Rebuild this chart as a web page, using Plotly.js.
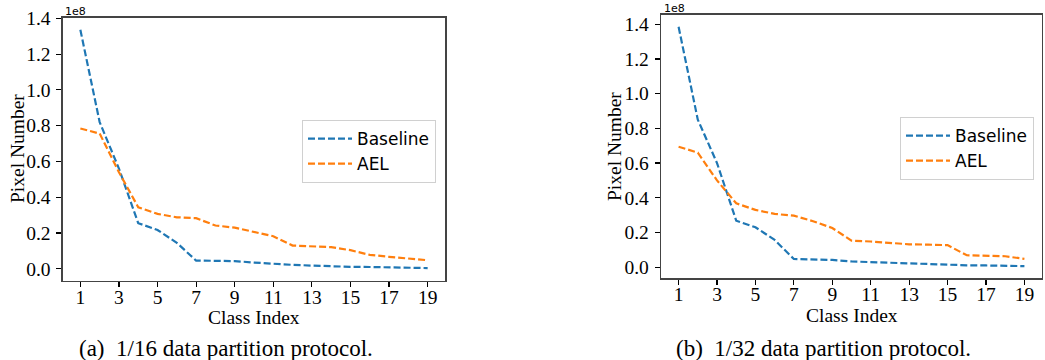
<!DOCTYPE html>
<html>
<head>
<meta charset="utf-8">
<script src="https://cdn.plot.ly/plotly-3.0.1.min.js"></script>
<style>html,body{margin:0;padding:0;background:#fff;}#chart{width:1045px;height:360px;}</style>
</head>
<body>
<div id="chart"></div>
<script>
// Class indices
const classIndex = [1,2,3,4,5,6,7,8,9,10,11,12,13,14,15,16,17,18,19];
// Values in units of 1e8 pixels
// (a) 1/16 data partition protocol
const baseline16 = [1.336,0.82,0.56,0.255,0.217,0.145,0.046,0.045,0.043,0.035,0.027,0.022,0.018,0.013,0.011,0.010,0.009,0.006,0.004];
const ael16      = [0.784,0.756,0.54,0.344,0.307,0.288,0.283,0.242,0.230,0.206,0.182,0.130,0.126,0.121,0.104,0.078,0.067,0.056,0.048];
// (b) 1/32 data partition protocol
const baseline32 = [1.385,0.85,0.60,0.268,0.230,0.157,0.047,0.046,0.042,0.033,0.029,0.024,0.019,0.015,0.012,0.011,0.010,0.008,0.006];
const ael32      = [0.694,0.660,0.50,0.368,0.330,0.307,0.297,0.265,0.226,0.153,0.148,0.138,0.132,0.130,0.127,0.069,0.067,0.063,0.048];
const xTicks = [1,3,5,7,9,11,13,15,17,19];
const yTicks = [0,0.2,0.4,0.6,0.8,1.0,1.2,1.4];
const seriesNames = ['Baseline','AEL'];
const captions = ['(a)  1/16 data partition protocol.','(b)  1/32 data partition protocol.'];
const xTitle = 'Class Index';
const yTitle = 'Pixel Number';
const scaleLabel = '1e8';

const blue = '#1f77b4', orange = '#ff7f0e';
const lineStyle = c => ({color:c, width:2.2, dash:'7px,3px'});
const W = 1045, H = 360;
const px = x => x / W;
const py = y => (H - y) / H;

const traces = [
  {x:classIndex, y:baseline16, name:seriesNames[0], mode:'lines', line:lineStyle(blue), xaxis:'x', yaxis:'y', legend:'legend', legendgroup:'b1'},
  {x:classIndex, y:ael16, name:seriesNames[1], mode:'lines', line:lineStyle(orange), xaxis:'x', yaxis:'y', legend:'legend', legendgroup:'a1'},
  {x:classIndex, y:baseline32, name:seriesNames[0], mode:'lines', line:lineStyle(blue), xaxis:'x2', yaxis:'y2', legend:'legend2', legendgroup:'b2'},
  {x:classIndex, y:ael32, name:seriesNames[1], mode:'lines', line:lineStyle(orange), xaxis:'x2', yaxis:'y2', legend:'legend2', legendgroup:'a2'}
];

const serif = 'Liberation Serif';
const sans = 'DejaVu Sans';

function xAx(domain, anchor){
  return {domain:domain, anchor:anchor, range:[0.1,19.9], tickmode:'array', tickvals:xTicks,
    ticks:'outside', ticklen:5, tickwidth:1.2, tickcolor:'#000', showgrid:false, zeroline:false,
    showline:true, mirror:true, linecolor:'#444', linewidth:1.6, ticklabelstandoff:-7,
    tickfont:{family:serif, size:19.5, color:'#000'}};
}
function yAx(domain, anchor, range){
  return {domain:domain, anchor:anchor, range:range, tickmode:'array', tickvals:yTicks, tickformat:'.1f',
    ticks:'outside', ticklen:5, tickwidth:1.2, tickcolor:'#000', showgrid:false, zeroline:false,
    showline:true, mirror:true, linecolor:'#444', linewidth:1.6, ticklabelstandoff:2,
    tickfont:{family:serif, size:19.5, color:'#000'}};
}

function legendAt(x, y){
  return {x:x, y:y, font:{family:sans, size:17, color:'#000'}, bgcolor:'rgba(255,255,255,0.8)',
    bordercolor:'#d0d0d0', borderwidth:1, xanchor:'left', yanchor:'top', itemwidth:44, tracegroupgap:0};
}

const layout = {
  width:W, height:H, margin:{l:0,r:0,t:0,b:0}, paper_bgcolor:'#fff', plot_bgcolor:'#fff',
  font:{family:serif, size:19.5, color:'#000'},
  showlegend:true,
  xaxis: xAx([px(63), px(445)], 'y'),
  yaxis: yAx([py(280.7), py(17.7)], 'x', [-0.0665, 1.4035]),
  xaxis2: xAx([px(661.3), px(1041.7)], 'y2'),
  yaxis2: yAx([py(278.3), py(15)], 'x2', [-0.064, 1.453]),
  legend: legendAt(px(302), py(120)),
  legend2: legendAt(px(900), py(117)),
  annotations: [
    {text:yTitle, xref:'paper', yref:'paper', x:px(17), y:py(149), textangle:-90, showarrow:false, font:{family:serif, size:19.5, color:'#000'}, xanchor:'center', yanchor:'middle'},
    {text:yTitle, xref:'paper', yref:'paper', x:px(614), y:py(147), textangle:-90, showarrow:false, font:{family:serif, size:19.5, color:'#000'}, xanchor:'center', yanchor:'middle'},
    {text:xTitle, xref:'paper', yref:'paper', x:px(254), y:py(317), showarrow:false, font:{family:serif, size:19.5, color:'#000'}, xanchor:'center', yanchor:'middle'},
    {text:xTitle, xref:'paper', yref:'paper', x:px(851.5), y:py(315), showarrow:false, font:{family:serif, size:19.5, color:'#000'}, xanchor:'center', yanchor:'middle'},
    {text:captions[0], xref:'paper', yref:'paper', x:px(226), y:py(348), showarrow:false, font:{family:serif, size:23, color:'#000'}, xanchor:'center', yanchor:'middle'},
    {text:captions[1], xref:'paper', yref:'paper', x:px(823.5), y:py(348), showarrow:false, font:{family:serif, size:23, color:'#000'}, xanchor:'center', yanchor:'middle'},
    {text:scaleLabel, xref:'paper', yref:'paper', x:px(63), y:py(12), showarrow:false, font:{family:sans, size:11, color:'#000'}, xanchor:'left', yanchor:'middle'},
    {text:scaleLabel, xref:'paper', yref:'paper', x:px(662), y:py(8.5), showarrow:false, font:{family:sans, size:11, color:'#000'}, xanchor:'left', yanchor:'middle'}
  ]
};

Plotly.newPlot('chart', traces, layout, {staticPlot:true, displayModeBar:false});
</script>
</body>
</html>
